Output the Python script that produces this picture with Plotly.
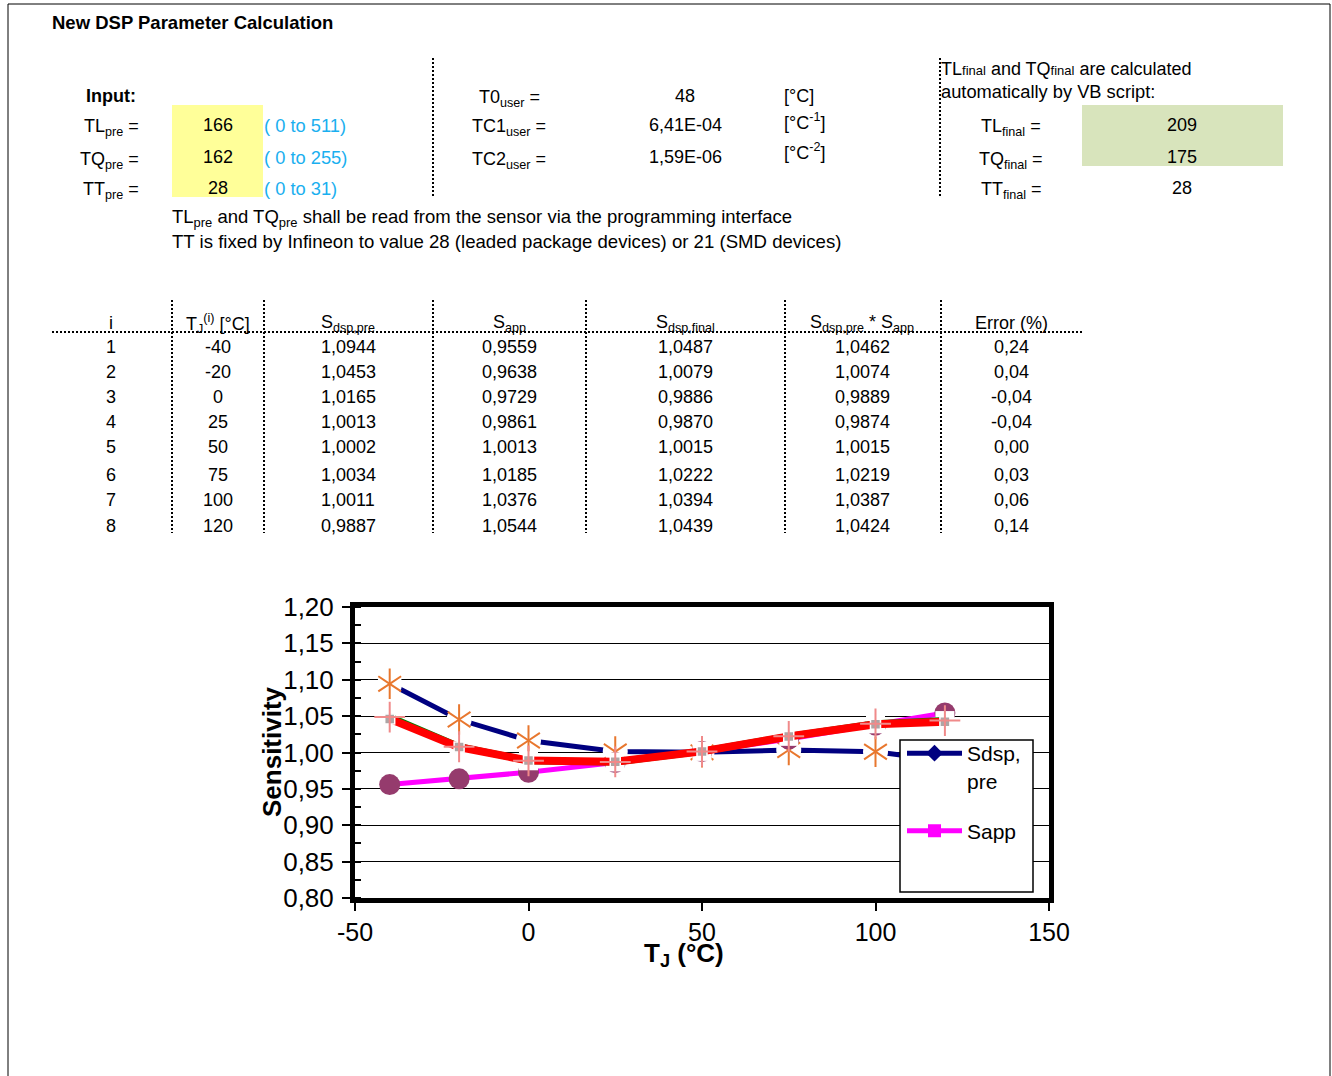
import plotly.graph_objects as go

W, H = 1332, 1076


def X(p):
    return p / W


def Y(p):
    return 1 - p / H


# ---------------- data ----------------
row_i = [1, 2, 3, 4, 5, 6, 7, 8]
tj = [-40, -20, 0, 25, 50, 75, 100, 120]
s_dsp_pre = [1.0944, 1.0453, 1.0165, 1.0013, 1.0002, 1.0034, 1.0011, 0.9887]
s_app = [0.9559, 0.9638, 0.9729, 0.9861, 1.0013, 1.0185, 1.0376, 1.0544]
s_dsp_final = [1.0487, 1.0079, 0.9886, 0.9870, 1.0015, 1.0222, 1.0394, 1.0439]
s_prod = [1.0462, 1.0074, 0.9889, 0.9874, 1.0015, 1.0219, 1.0387, 1.0424]
error_pct = [0.24, 0.04, -0.04, -0.04, 0.00, 0.03, 0.06, 0.14]

x_ticks = [-50, 0, 50, 100, 150]

input_labels = ["TL<sub>pre</sub> =", "TQ<sub>pre</sub> =", "TT<sub>pre</sub> ="]
input_values = [166, 162, 28]
input_ranges = ["( 0 to 511)", "( 0 to 255)", "( 0 to 31)"]

user_labels = ["T0<sub>user</sub> =", "TC1<sub>user</sub> =", "TC2<sub>user</sub> ="]
user_values = [48, 6.41e-4, 1.59e-6]
user_units = ["[°C]", "[°C<sup>-1</sup>]", "[°C<sup>-2</sup>]"]

final_labels = ["TL<sub>final</sub> =", "TQ<sub>final</sub> =", "TT<sub>final</sub> ="]
final_values = [209, 175, 28]

table_headers = ["i", "T<sub>J</sub><sup>(i)</sup> [°C]", "S<sub>dsp,pre</sub>", "S<sub>app</sub>",
                 "S<sub>dsp,final</sub>", "S<sub>dsp,pre</sub> * S<sub>app</sub>", "Error (%)"]


def dec(v, n):
    return f"{v:.{n}f}".replace(".", ",")


def sci(v):
    return f"{v:.2E}".replace(".", ",")


FONT = "Liberation Sans, Arial, sans-serif"

fig = go.Figure()

# ---------------- chart traces ----------------
fig.add_trace(go.Scatter(x=tj, y=s_dsp_pre, mode="lines+markers", name="Sdsp,<br>pre",
                         legendgroup="a",
                         line=dict(color="#000080", width=5),
                         marker=dict(symbol="diamond", size=13, color="#000080")))
fig.add_trace(go.Scatter(x=tj, y=s_dsp_pre, mode="markers", showlegend=False, hoverinfo="skip",
                         marker=dict(symbol="circle", size=25, color="white")))
for sym in ["y-up-open", "y-down-open"]:
    fig.add_trace(go.Scatter(x=tj, y=s_dsp_pre, mode="markers", showlegend=False, hoverinfo="skip",
                             marker=dict(symbol=sym, size=19, color="#E8772E",
                                         line=dict(width=2, color="#E8772E"))))
fig.add_trace(go.Scatter(x=tj, y=s_app, mode="lines+markers", name="Sapp", legendgroup="b",
                         line=dict(color="#FF00FF", width=5),
                         marker=dict(symbol="square", size=13, color="#FF00FF")))
fig.add_trace(go.Scatter(x=tj, y=s_app, mode="markers", showlegend=False, hoverinfo="skip",
                         marker=dict(symbol="circle", size=21, color="#953B6D")))
fig.add_trace(go.Scatter(x=tj, y=s_dsp_final, mode="markers", showlegend=False, hoverinfo="skip",
                         marker=dict(symbol="square", size=19, color="white")))
fig.add_trace(go.Scatter(x=tj, y=s_dsp_final, mode="lines", showlegend=False, hoverinfo="skip",
                         line=dict(color="#008000", width=7)))
fig.add_trace(go.Scatter(x=tj, y=s_prod, mode="lines", showlegend=False, hoverinfo="skip",
                         line=dict(color="#FF0000", width=8)))
fig.add_trace(go.Scatter(x=tj, y=s_prod, mode="markers", showlegend=False, hoverinfo="skip",
                         marker=dict(symbol="square", size=10, color="#ADA5A5",
                                     line=dict(width=1.5, color="white"))))
fig.add_trace(go.Scatter(x=tj, y=s_dsp_final, mode="markers", showlegend=False, hoverinfo="skip",
                         marker=dict(symbol="cross-thin-open", size=22, color="#F08A8A",
                                     line=dict(width=2, color="#F08A8A"))))
fig.add_trace(go.Scatter(x=[None], y=[None], mode="lines", name=" ", legendgroup="c",
                         line=dict(color="rgba(0,0,0,0)", width=1)))

# ---------------- annotations ----------------
ann = []


def txt(x, y, text, size=18, anchor="left", color="black", bold=False, yanchor="middle", angle=0):
    if bold:
        text = "<b>" + text + "</b>"
    ann.append(dict(x=X(x), y=Y(y), xref="paper", yref="paper", text=text, showarrow=False,
                    xanchor=anchor, yanchor=yanchor, textangle=angle,
                    font=dict(family=FONT, size=size, color=color)))


txt(50, 22, "New DSP Parameter Calculation", size=18.5, bold=True)
txt(84, 96, "Input:", size=18, bold=True)

rows_y = [125, 157, 188]
for k in range(3):
    txt(141, rows_y[k] + 3, input_labels[k], anchor="right")
    txt(218, rows_y[k], str(input_values[k]), anchor="center")
    txt(262, rows_y[k], input_ranges[k], size=18.3, color="#1AAFEF")

user_y = [96, 125, 157]
for k in range(3):
    txt(509, user_y[k] + 3, user_labels[k], anchor="center")
user_val_txt = [str(user_values[0]), sci(user_values[1]), sci(user_values[2])]
for k in range(3):
    txt(685, user_y[k], user_val_txt[k], anchor="center")
unit_y = [96, 121, 151]
for k in range(3):
    txt(782, unit_y[k], user_units[k])

small = '<span style="font-size:13px">final</span>'
txt(939, 69, f"TL{small} and TQ{small} are calculated")
txt(939, 92, "automatically by VB script:", size=18.3)
for k in range(3):
    txt(1011, rows_y[k] + 3, final_labels[k], anchor="center")
    txt(1182, rows_y[k], str(final_values[k]), anchor="center")

txt(170, 218, "TL<sub>pre</sub> and TQ<sub>pre</sub> shall be read from the sensor via the programming interface",
    size=18.5)
txt(170, 241, "TT is fixed by Infineon to value 28 (leaded package devices) or 21 (SMD devices)", size=18.6)

col_x = [111, 218, 348, 510, 685, 862, 1011]
for c in range(7):
    txt(col_x[c], 323, table_headers[c], anchor="center")
row_y = [347, 372, 397, 422, 447, 475, 500, 526]
for r in range(8):
    vals = [str(row_i[r]), str(tj[r]), dec(s_dsp_pre[r], 4), dec(s_app[r], 4),
            dec(s_dsp_final[r], 4), dec(s_prod[r], 4), dec(error_pct[r], 2)]
    for c in range(7):
        txt(col_x[c], row_y[r], vals[c], anchor="center")

txt(272, 752, "Sensitivity", size=26, bold=True, anchor="center", angle=-90)
txt(684, 954, "T<sub>J</sub> (°C)", size=26, bold=True, anchor="center")

# ---------------- shapes ----------------
shapes = []


def rect(x0, y0, x1, y1, fill, line_color=None, lw=0, layer="below"):
    shapes.append(dict(type="rect", xref="paper", yref="paper", x0=X(x0), x1=X(x1), y0=Y(y1), y1=Y(y0),
                       fillcolor=fill, line=dict(width=lw, color=line_color or fill), layer=layer))


def line(x0, y0, x1, y1, dash="solid", lw=1, color="black"):
    shapes.append(dict(type="line", xref="paper", yref="paper", x0=X(x0), x1=X(x1), y0=Y(y0), y1=Y(y1),
                       line=dict(width=lw, color=color, dash=dash), layer="above"))


rect(172, 105, 263, 197, "#FFFF99")
rect(1082, 105, 1283, 166, "#D8E4BC")

line(8, 4, 1330, 4)
line(8, 4, 8, 1076)
line(1330, 4, 1330, 1076)

DOT = "2px,2px"
line(433, 58, 433, 198, DOT, 2)
line(940, 58, 940, 198, DOT, 2)
for xv in [172, 264, 433, 586, 785, 941]:
    line(xv, 300, xv, 533, DOT, 2)
line(52, 332, 1082, 332, DOT, 2)

rect(900, 740, 1033, 892, "white", "black", 1.5, layer="above")

fig.update_layout(
    width=W, height=H, margin=dict(l=0, r=0, t=0, b=0, autoexpand=False),
    paper_bgcolor="white", plot_bgcolor="white",
    separators=",.",
    font=dict(family=FONT, color="black"),
    annotations=ann, shapes=shapes,
    legend=dict(x=X(902), y=Y(733), xanchor="left", yanchor="top", bgcolor="rgba(0,0,0,0)",
                font=dict(size=21, family=FONT, color="black"), traceorder="grouped",
                tracegroupgap=20, itemwidth=55, valign="top"),
    xaxis=dict(domain=[X(355), X(1049)], range=[-50, 150],
               tickvals=x_ticks, ticktext=[str(v) for v in x_ticks],
               showline=True, linewidth=5, linecolor="black", mirror=True,
               ticks="outside", ticklen=8, tickwidth=1.5, tickcolor="black",
               showgrid=False, zeroline=False, tickfont=dict(size=25, family=FONT)),
    yaxis=dict(domain=[Y(898), Y(607)], range=[0.8, 1.2], dtick=0.05, tick0=0.8, tickformat=".2f",
               showline=True, linewidth=5, linecolor="black", mirror=True,
               ticks="outside", ticklen=8, tickwidth=1.5, tickcolor="black",
               showgrid=True, gridcolor="black", gridwidth=1, zeroline=False,
               ticklabelstandoff=3,
               minor=dict(dtick=0.025, ticks="inside", ticklen=6, tickcolor="black", tickwidth=1.5,
                          showgrid=False),
               tickfont=dict(size=26, family=FONT)),
)

fig.write_html("out.html")
